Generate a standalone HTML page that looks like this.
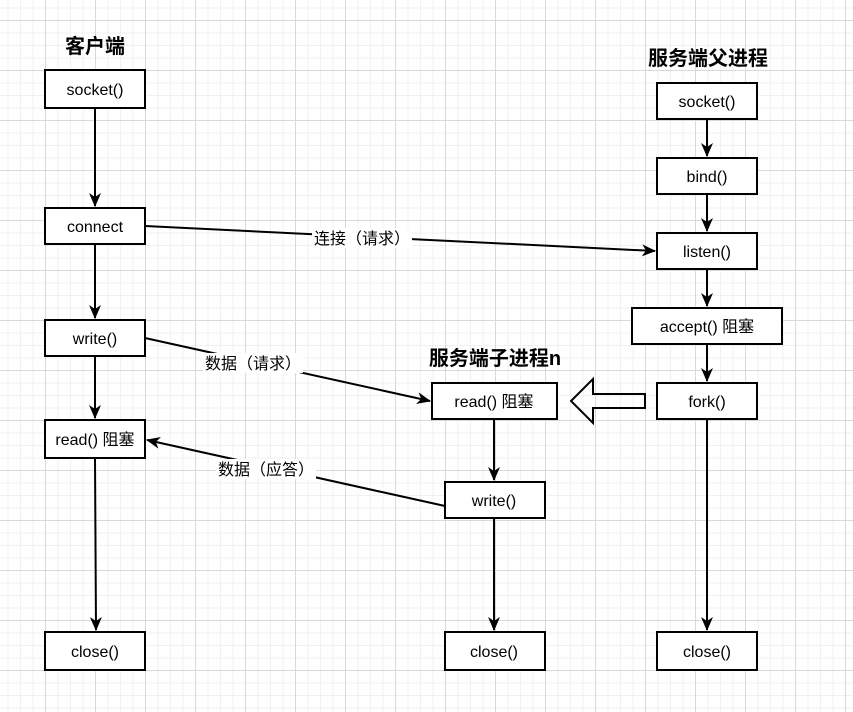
<!DOCTYPE html>
<html><head><meta charset="utf-8"><style>
body{margin:0;width:853px;height:712px;overflow:hidden;background:#fff;
background-image:linear-gradient(#d9d9d9 1px,transparent 1px),linear-gradient(90deg,#d9d9d9 1px,transparent 1px),linear-gradient(#f1f1f1 1px,transparent 1px),linear-gradient(90deg,#f1f1f1 1px,transparent 1px);
background-size:50px 50px,50px 50px,12.5px 12.5px,12.5px 12.5px;background-position:45px 20px,45px 20px,45px 20px,45px 20px;}
</style></head><body>
<svg width="853" height="712" style="position:absolute;left:0;top:0" font-family="Liberation Sans, Noto Sans CJK SC, sans-serif">
<defs><marker id="a" markerWidth="14" markerHeight="12" refX="13" refY="6" orient="auto" markerUnits="userSpaceOnUse"><path d="M0,0 L14,6 L0,12 L4,6z" fill="#000"/></marker></defs>
<g stroke="#000" stroke-width="2" fill="none">
<line x1="95" y1="108" x2="95" y2="206" marker-end="url(#a)"/>
<line x1="95" y1="244" x2="95" y2="318" marker-end="url(#a)"/>
<line x1="95" y1="356" x2="95" y2="418" marker-end="url(#a)"/>
<line x1="95" y1="458" x2="96" y2="630" marker-end="url(#a)"/>
<line x1="707" y1="119" x2="707" y2="156" marker-end="url(#a)"/>
<line x1="707" y1="194" x2="707" y2="231" marker-end="url(#a)"/>
<line x1="707" y1="269" x2="707" y2="306" marker-end="url(#a)"/>
<line x1="707" y1="344" x2="707" y2="381" marker-end="url(#a)"/>
<line x1="707" y1="419" x2="707" y2="630" marker-end="url(#a)"/>
<line x1="494" y1="419" x2="494" y2="480" marker-end="url(#a)"/>
<line x1="494" y1="518" x2="494" y2="630" marker-end="url(#a)"/>
<line x1="145" y1="226" x2="655" y2="251" marker-end="url(#a)"/>
<line x1="145" y1="338" x2="430" y2="401" marker-end="url(#a)"/>
<line x1="445" y1="506" x2="147" y2="440" marker-end="url(#a)"/>
<path d="M645,394 L645,408 L593,408 L593,423 L571,401 L593,379 L593,394 Z"/>
</g>
<g fill="#fff" stroke="#000" stroke-width="2">
<rect x="45" y="70" width="100" height="38"/><rect x="45" y="208" width="100" height="36"/>
<rect x="45" y="320" width="100" height="36"/><rect x="45" y="420" width="100" height="38"/>
<rect x="45" y="632" width="100" height="38"/>
<rect x="657" y="83" width="100" height="36"/><rect x="657" y="158" width="100" height="36"/>
<rect x="657" y="233" width="100" height="36"/><rect x="632" y="308" width="150" height="36"/>
<rect x="657" y="383" width="100" height="36"/><rect x="657" y="632" width="100" height="38"/>
<rect x="432" y="383" width="125" height="36"/><rect x="445" y="482" width="100" height="36"/>
<rect x="445" y="632" width="100" height="38"/>
</g>
<g font-size="16" text-anchor="middle" fill="#000">
<text x="95" y="95">socket()</text><text x="95" y="232">connect</text>
<text x="95" y="344">write()</text><text x="95" y="445">read() 阻塞</text>
<text x="95" y="657">close()</text>
<text x="707" y="107">socket()</text><text x="707" y="182">bind()</text>
<text x="707" y="257">listen()</text><text x="707" y="332">accept() 阻塞</text>
<text x="707" y="407">fork()</text><text x="707" y="657">close()</text>
<text x="494" y="407">read() 阻塞</text><text x="494" y="506">write()</text>
<text x="494" y="657">close()</text>
</g>
<g font-size="16" text-anchor="middle">
<rect x="312" y="228" width="100" height="20" fill="#fff"/><text x="362" y="244">连接（请求）</text>
<rect x="203" y="353" width="100" height="20" fill="#fff"/><text x="253" y="369">数据（请求）</text>
<rect x="216" y="459" width="100" height="20" fill="#fff"/><text x="266" y="475">数据（应答）</text>
</g>
<g font-size="20" font-weight="bold" text-anchor="middle">
<text x="95" y="53">客户端</text><text x="708" y="65">服务端父进程</text><text x="495" y="365">服务端子进程n</text>
</g>
</svg>
</body></html>
